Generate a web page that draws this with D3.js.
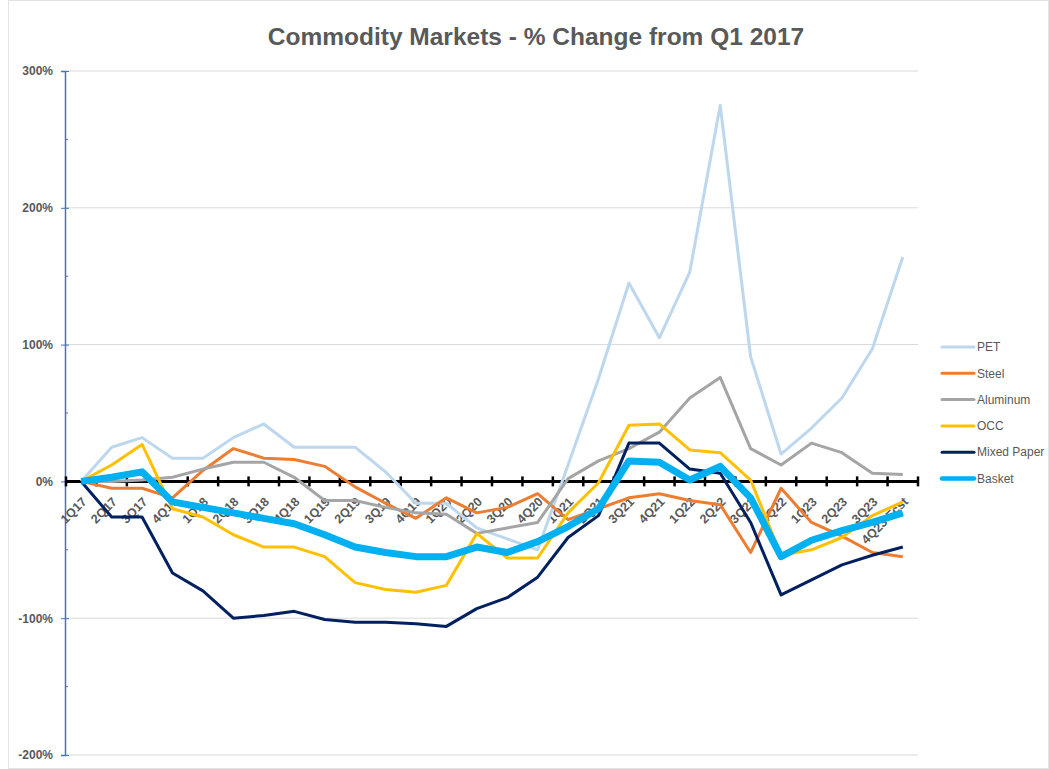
<!DOCTYPE html>
<html>
<head>
<meta charset="utf-8">
<script src="https://cdn.jsdelivr.net/npm/d3@7"></script>
<style>
  body { margin: 0; background: #fff; }
  svg { display: block; font-family: "Liberation Sans", Arial, sans-serif; }
</style>
</head>
<body>
<div id="chart"></div>
<script>
// Commodity Markets - % change from Q1 2017
const quarters = ['1Q17','2Q17','3Q17','4Q17','1Q18','2Q18','3Q18','4Q18','1Q19','2Q19','3Q19','4Q19',
  '1Q20','2Q20','3Q20','4Q20','1Q21','2Q21','3Q21','4Q21','1Q22','2Q22','3Q22','4Q22','1Q23','2Q23','3Q23','4Q23 Fcst'];

const pet      = [0, 25, 32, 17, 17, 32, 42, 25, 25, 25, 7, -16, -16, -34, -42, -50, 12, 75, 145, 105, 153, 275, 91, 20, 39, 61, 97, 164];
const steel    = [0, -5, -5, -12, 8, 24, 17, 16, 11, -4, -16, -27, -12, -23, -19, -9, -28, -20, -12, -9, -14, -17, -52, -5, -30, -40, -52, -55];
const aluminum = [0, 0, 1, 3, 9, 14, 14, 3, -14, -14, -19, -23, -24, -38, -34, -30, 2, 15, 24, 36, 61, 76, 24, 12, 28, 21, 6, 5];
const occ      = [0, 12, 27, -20, -26, -39, -48, -48, -55, -74, -79, -81, -76, -38, -56, -56, -23, -1, 41, 42, 23, 21, 1, -54, -50, -41, -25, -15];
const mixed    = [0, -26, -26, -67, -80, -100, -98, -95, -101, -103, -103, -104, -106, -93, -85, -70, -41, -25, 28, 28, 9, 6, -30, -83, -72, -61, -54, -48];
const basket   = [0, 3, 7, -15, -19, -23, -27, -31, -39, -48, -52, -55, -55, -48, -52, -44, -33, -20, 15, 14, 1, 11, -12, -55, -43, -36, -30, -23];

const yTicks = [300, 200, 100, 0, -100, -200];

const series = [
  { name: 'PET', values: pet, color: '#BDD7EE', width: 3 },
  { name: 'Steel', values: steel, color: '#ED7D31', width: 3 },
  { name: 'Aluminum', values: aluminum, color: '#A5A5A5', width: 3 },
  { name: 'OCC', values: occ, color: '#FFC000', width: 3 },
  { name: 'Mixed Paper', values: mixed, color: '#002060', width: 3 },
  { name: 'Basket', values: basket, color: '#00B0F0', width: 7 }
];

const W = 1049, H = 769;
const plot = { left: 66, right: 918, top: 71, bottom: 755 };

const svg = d3.select('#chart').append('svg')
  .attr('width', W)
  .attr('height', H);

// outer chart border
svg.append('rect')
  .attr('x', 8.5).attr('y', 0.5)
  .attr('width', W - 9).attr('height', H - 1)
  .style('fill', 'none')
  .style('stroke', '#E3E3E3');

const x = d3.scaleBand().domain(quarters).range([plot.left, plot.right]);
const y = d3.scaleLinear().domain([-200, 300]).range([plot.bottom, plot.top]);
const cx = d => x(d) + x.bandwidth() / 2;

// title
svg.append('text')
  .attr('x', 536).attr('y', 45)
  .attr('text-anchor', 'middle')
  .style('font-size', '24.5px')
  .style('font-weight', 'bold')
  .style('fill', '#595959')
  .text('Commodity Markets - % Change from Q1 2017');

// gridlines
svg.append('g')
  .selectAll('line')
  .data(yTicks.filter(t => t !== 0))
  .enter().append('line')
  .attr('x1', plot.left).attr('x2', plot.right)
  .attr('y1', d => y(d)).attr('y2', d => y(d))
  .style('stroke', '#D9D9D9')
  .style('stroke-width', 1);

// y axis
const yAxis = svg.append('g')
  .attr('transform', `translate(${plot.left - 1},0)`)
  .call(d3.axisLeft(y).tickValues(yTicks).tickSize(4).tickFormat(d => d + '%'));
yAxis.select('.domain').style('stroke', '#4472C4').style('stroke-width', 1.5);
yAxis.selectAll('.tick line').style('stroke', '#4472C4').attr('x2', -4).attr('x1', 4);
yAxis.selectAll('.tick text')
  .attr('x', -12)
  .style('font-size', '12px')
  .style('font-weight', 'bold')
  .style('fill', '#595959');

// minor ticks on y axis
svg.append('g')
  .selectAll('line')
  .data(d3.range(-150, 300, 100))
  .enter().append('line')
  .attr('x1', plot.left - 1).attr('x2', plot.left + 2)
  .attr('y1', d => y(d)).attr('y2', d => y(d))
  .style('stroke', '#4472C4');

// zero line with category boundary ticks
svg.append('line')
  .attr('x1', plot.left - 1).attr('x2', plot.right)
  .attr('y1', y(0)).attr('y2', y(0))
  .style('stroke', '#000')
  .style('stroke-width', 3);

svg.append('g')
  .selectAll('line')
  .data(quarters.concat(['end']))
  .enter().append('line')
  .attr('x1', (d, i) => plot.left + i * x.step())
  .attr('x2', (d, i) => plot.left + i * x.step())
  .attr('y1', y(0) - 5).attr('y2', y(0) + 5)
  .style('stroke', '#000')
  .style('stroke-width', 2.5);

// category labels
svg.append('g')
  .selectAll('text')
  .data(quarters)
  .enter().append('text')
  .attr('transform', d => `translate(${cx(d) + 3},${y(0) + 18}) rotate(-45)`)
  .attr('text-anchor', 'end')
  .attr('dy', '0.35em')
  .style('font-size', '12.5px')
  .style('font-weight', 'bold')
  .style('fill', '#595959')
  .text(d => d);

// series lines
const line = d3.line()
  .x((d, i) => cx(quarters[i]))
  .y(d => y(d));

svg.append('g')
  .selectAll('path')
  .data(series)
  .enter().append('path')
  .attr('d', d => line(d.values))
  .style('fill', 'none')
  .style('stroke', d => d.color)
  .style('stroke-width', d => d.width)
  .style('stroke-linejoin', 'round');

// legend
const legend = svg.append('g')
  .selectAll('g')
  .data(series)
  .enter().append('g')
  .attr('transform', (d, i) => `translate(942,${347 + i * 26.3})`);

legend.append('line')
  .attr('x1', 0).attr('x2', 32)
  .style('stroke', d => d.color)
  .style('stroke-width', d => d.name === 'Basket' ? 4.5 : 3)
  .style('stroke-linecap', 'round');

legend.append('text')
  .attr('x', 35)
  .attr('dy', '0.35em')
  .style('font-size', '12px')
  .style('fill', '#595959')
  .text(d => d.name);
</script>
</body>
</html>
